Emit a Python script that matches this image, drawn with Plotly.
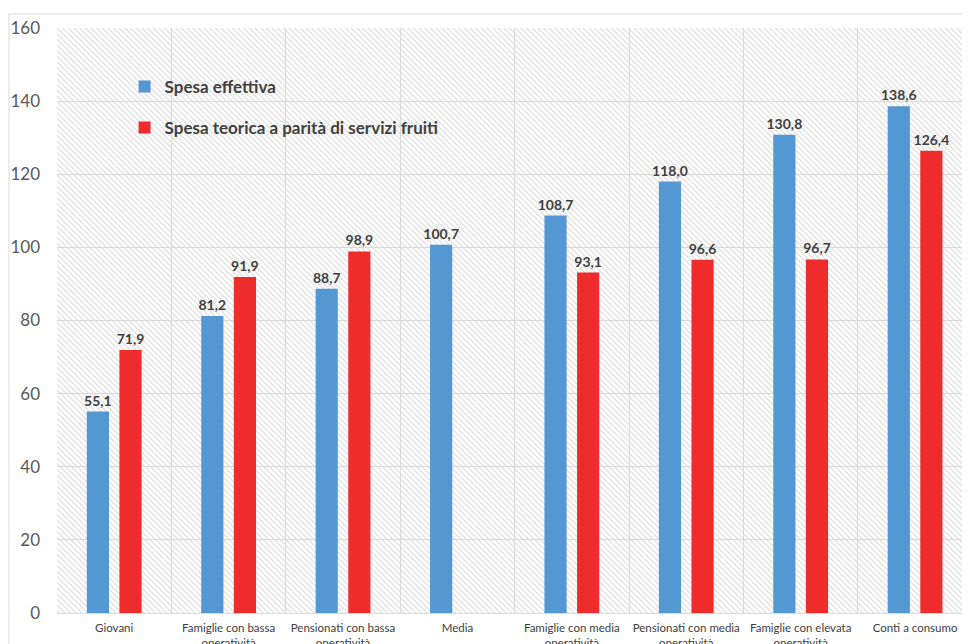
import plotly.graph_objects as go

categories = ["Giovani", "Famiglie con bassa<br>operatività", "Pensionati con bassa<br>operatività",
              "Media", "Famiglie con media<br>operatività", "Pensionati con media<br>operatività",
              "Famiglie con elevata<br>operatività", "Conti a consumo"]
spesa_effettiva = [55.1, 81.2, 88.7, 100.7, 108.7, 118.0, 130.8, 138.6]
spesa_teorica = [71.9, 91.9, 98.9, None, 93.1, 96.6, 96.7, 126.4]
y_ticks = [0, 20, 40, 60, 80, 100, 120, 140, 160]

BLUE = "#5397d3"
RED = "#ee2c2c"
LABEL = "#404040"
FONT = "Lato"

fig = go.Figure()

# hatched plot background
fig.add_trace(go.Bar(
    x=[4], y=[160], width=[8], xaxis="x", yaxis="y",
    marker=dict(color="rgba(0,0,0,0)", line=dict(width=0),
                pattern=dict(shape="\\", size=4, solidity=0.3,
                             fgcolor="#dcdcdc", bgcolor="rgba(0,0,0,0)", fillmode="replace")),
    showlegend=False, hoverinfo="skip",
))

fig.add_trace(go.Bar(
    name="Spesa effettiva", x=categories, y=spesa_effettiva, xaxis="x2", yaxis="y",
    marker=dict(color=BLUE, line=dict(width=0)), legendgroup="a",
    texttemplate="%{y:.1f}", textposition="outside", cliponaxis=False, constraintext="none",
    textfont=dict(family=FONT, size=14, color=LABEL, weight="bold"),
))
fig.add_trace(go.Bar(
    name="Spesa teorica a parità di servizi fruiti", x=categories, y=spesa_teorica, xaxis="x2", yaxis="y",
    marker=dict(color=RED, line=dict(width=0)), legendgroup="b",
    texttemplate="%{y:.1f}", textposition="outside", cliponaxis=False, constraintext="none",
    textfont=dict(family=FONT, size=14, color=LABEL, weight="bold"),
))

fig.update_layout(
    width=962, height=636,
    margin=dict(l=49, r=0, t=20, b=31),
    paper_bgcolor="white", plot_bgcolor="white",
    separators=",.",
    barmode="group", bargap=0.43, bargroupgap=0.32,
    font=dict(family=FONT, color="#595959"),
    xaxis=dict(range=[0, 7.98], showticklabels=False, showgrid=True, dtick=1, tick0=0,
               gridcolor="#d9d9d9", gridwidth=1, zeroline=False, automargin=False),
    xaxis2=dict(overlaying="x", side="bottom", type="category", range=[-0.5, 7.48],
                showgrid=False, showline=True, linecolor="#d9d9d9", linewidth=1,
                ticks="", automargin=False, ticklabelstandoff=4,
                tickfont=dict(family=FONT, size=11.5, color="#404040")),
    yaxis=dict(range=[0, 160], tickvals=y_ticks, showgrid=True, gridcolor="#d9d9d9",
               zeroline=False, ticks="", ticklabelstandoff=16, automargin=False,
               tickfont=dict(family=FONT, size=17, color="#595959")),
    legend=dict(x=0.074, y=0.93, xanchor="left", yanchor="top", bgcolor="rgba(0,0,0,0)",
                font=dict(family=FONT, size=17, color="#404040", weight="bold"),
                tracegroupgap=16, itemwidth=30),
    shapes=[dict(type="rect", xref="paper", yref="paper", x0=-0.0526, x1=1.2, y0=-0.3, y1=1.024,
                 line=dict(color="#d9d9d9", width=1), fillcolor="rgba(0,0,0,0)", layer="below")],
)

fig.write_html("out.html")
